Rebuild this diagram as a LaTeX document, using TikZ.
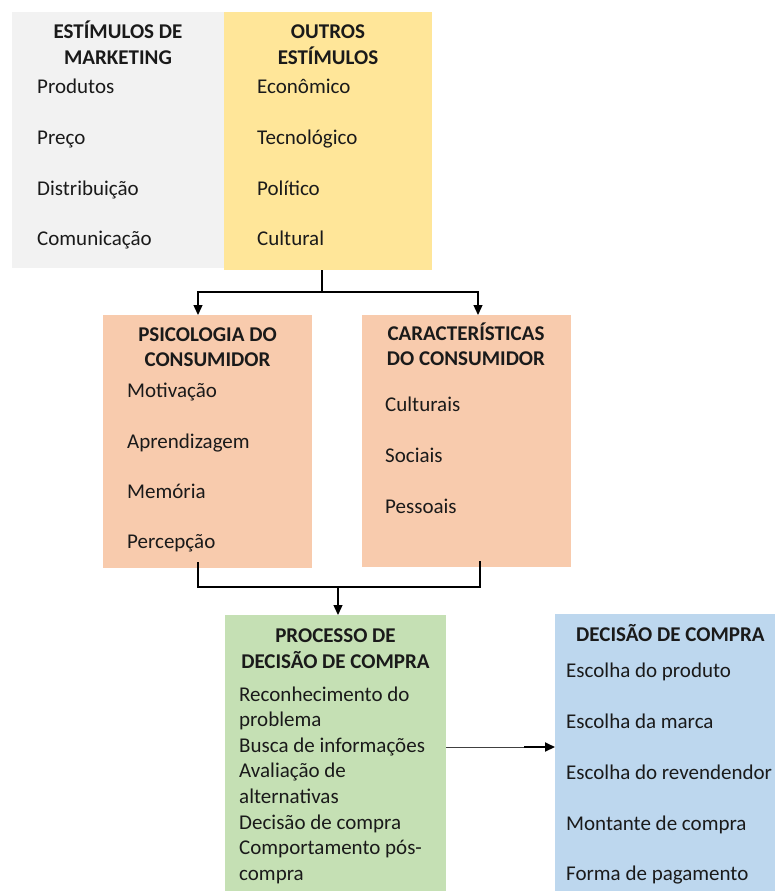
\documentclass[tikz,border=0pt]{standalone}
\usepackage{fontspec}
\setmainfont{Carlito}
\usetikzlibrary{arrows.meta,calc}
\definecolor{cgray}{HTML}{F2F2F2}
\definecolor{cyel}{HTML}{FFE699}
\definecolor{csal}{HTML}{F8CBAD}
\definecolor{cgrn}{HTML}{C5E0B4}
\definecolor{cblu}{HTML}{BDD7EE}
\definecolor{txt}{HTML}{1A1A1A}
\begin{document}
\begin{tikzpicture}[x=1pt,y=-1pt,
  box/.style={anchor=north west, inner sep=0pt, outer sep=0pt, draw=none},
  item/.style={anchor=base west, inner sep=0pt, text=txt, font=\fontsize{21}{24}\selectfont},
  ttl/.style={anchor=base, inner sep=0pt, text=txt, font=\fontsize{21}{24}\selectfont\bfseries},
  conn/.style={line width=1.3pt, draw=black},
  arr/.style={conn, -{Triangle[length=10pt,width=9pt]}}]
\useasboundingbox (0,0) rectangle (774,891);
% boxes
\node[box, fill=cgray, minimum width=212pt, minimum height=256pt] (mkt) at (12,12) {};
\node[box, fill=cyel, minimum width=208pt, minimum height=258pt] (out) at (224,12) {};
\node[box, fill=csal, minimum width=209pt, minimum height=253pt] (psi) at (103,315) {};
\node[box, fill=csal, minimum width=209pt, minimum height=252pt] (car) at (362,315) {};
\node[box, fill=cgrn, minimum width=221pt, minimum height=290pt] (proc) at (225,615) {};
\node[box, fill=cblu, minimum width=240pt, minimum height=290pt] (dec) at (555,614) {};
% texts: marketing
\node[ttl] (m1) at (118,39) {ESTÍMULOS DE};
\node[ttl] (m2) at (118,64) {MARKETING};
\node[item] (m3) at (37,93) {Produtos};
\node[item] (m4) at (37,144) {Preço};
\node[item] (m5) at (37,195) {Distribuição};
\node[item] (m6) at (37,245) {Comunicação};
% outros
\node[ttl] (o1) at (328,39) {OUTROS};
\node[ttl] (o2) at (328,64) {ESTÍMULOS};
\node[item] (o3) at (257,93) {Econômico};
\node[item] (o4) at (257,144) {Tecnológico};
\node[item] (o5) at (257,195) {Político};
\node[item] (o6) at (257,245) {Cultural};
% psicologia
\node[ttl] (p1) at (207.5,341) {PSICOLOGIA DO};
\node[ttl] (p2) at (207.5,366) {CONSUMIDOR};
\node[item] (p3) at (127,397) {Motivação};
\node[item] (p4) at (127,448) {Aprendizagem};
\node[item] (p5) at (127,498) {Memória};
\node[item] (p6) at (127,548) {Percepção};
% caracteristicas
\node[ttl] (c1) at (466,340) {CARACTERÍSTICAS};
\node[ttl] (c2) at (466,365) {DO CONSUMIDOR};
\node[item] (c3) at (385,411) {Culturais};
\node[item] (c4) at (385,462) {Sociais};
\node[item] (c5) at (385,513) {Pessoais};
% processo
\node[ttl] (r1) at (335.5,642) {PROCESSO DE};
\node[ttl] (r2) at (335.5,668) {DECISÃO DE COMPRA};
\node[item] (r3) at (239,701) {Reconhecimento do};
\node[item] (r4) at (239,726.6) {problema};
\node[item] (r5) at (239,752.2) {Busca de informações};
\node[item] (r6) at (239,777.8) {Avaliação de};
\node[item] (r7) at (239,803.4) {alternativas};
\node[item] (r8) at (239,829) {Decisão de compra};
\node[item] (r9) at (239,854.6) {Comportamento pós-};
\node[item] (r10) at (239,880.2) {compra};
% decisao
\node[item, font=\fontsize{21}{24}\selectfont\bfseries] (d1) at (576,641) {DECISÃO DE COMPRA};
\node[item] (d2) at (566,677) {Escolha do produto};
\node[item] (d3) at (566,728) {Escolha da marca};
\node[item] (d4) at (566,779) {Escolha do revendendor};
\node[item] (d5) at (566,830) {Montante de compra};
\node[item] (d6) at (566,880) {Forma de pagamento};
% connectors top
\coordinate (j) at (322,292);
\draw[conn] (j |- out.south) -- (j);
\draw[arr] (j) -| ($(psi.north west)+(95,0)$);
\draw[arr] (j) -| ($(car.north west)+(116,0)$);
% connectors middle
\coordinate (k) at (338,587);
\draw[conn] ($(psi.south west)+(95,-6)$) |- (k) -| ($(car.south west)+(118,-6)$);
\draw[arr] (k) -- (k |- proc.north);
% connector right
\coordinate (h) at (0,747);
\coordinate (h2) at (524,747);
\draw[line width=1pt, draw=black!75] (h -| proc.east) -- (h2);
\draw[line width=2pt, -{Triangle[length=10pt,width=9pt]}] (h2) -- (h -| dec.west);
\end{tikzpicture}
\end{document}
